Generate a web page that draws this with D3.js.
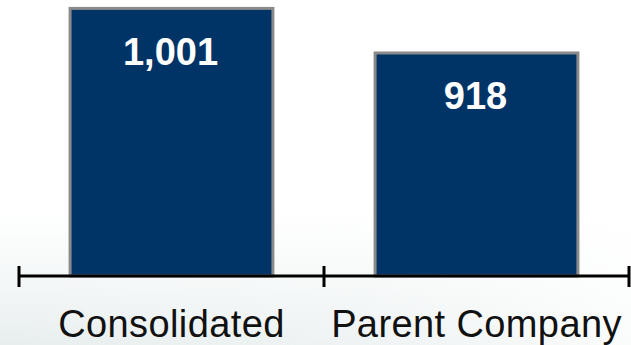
<!DOCTYPE html>
<html>
<head>
<meta charset="utf-8">
<script src="https://cdn.jsdelivr.net/npm/d3@7"></script>
<style>
  html, body { margin: 0; padding: 0; background: #fff; }
  svg { display: block; }
</style>
</head>
<body>
<svg id="chart" width="631" height="345"></svg>
<script>
// Chart data
const categories = ["Consolidated", "Parent Company"];
const values = [1001, 918];
const valueLabels = ["1,001", "918"];

const W = 631, H = 345;
const svg = d3.select("#chart");

// Soft backdrop shading toward the bottom
const defs = svg.append("defs");
const vg = defs.append("linearGradient").attr("id", "bgV")
  .attr("x1", 0).attr("y1", 0).attr("x2", 0).attr("y2", 1);
vg.append("stop").attr("offset", "0.6").attr("stop-color", "#ffffff");
vg.append("stop").attr("offset", "0.8").attr("stop-color", "#f5f8f8");
vg.append("stop").attr("offset", "1").attr("stop-color", "#e8eeee");
const hg = defs.append("linearGradient").attr("id", "bgH")
  .attr("x1", 0).attr("y1", 0).attr("x2", 1).attr("y2", 0);
hg.append("stop").attr("offset", "0").attr("stop-color", "#ffffff").attr("stop-opacity", 0);
hg.append("stop").attr("offset", "0.6").attr("stop-color", "#ffffff").attr("stop-opacity", 0.3);
hg.append("stop").attr("offset", "1").attr("stop-color", "#ffffff").attr("stop-opacity", 0.8);

svg.append("rect").attr("width", W).attr("height", H).attr("fill", "url(#bgV)");
svg.append("rect").attr("width", W).attr("height", H).attr("fill", "url(#bgH)");

// Scales
const axisY = 276;
const x = d3.scaleBand().domain(categories).range([19, 629]).padding(0);
const y = d3.scaleLinear().domain([500, 1012]).range([axisY, 1]);
const barFrac = 0.665;
const barW = x.bandwidth() * barFrac;

// Bars
svg.append("g").selectAll("rect")
  .data(categories)
  .join("rect")
  .attr("x", (d) => x(d) + (x.bandwidth() - barW) / 2)
  .attr("y", (d, i) => y(values[i]) + 1.5)
  .attr("width", barW)
  .attr("height", (d, i) => axisY - y(values[i]) - 1.5)
  .attr("fill", "#003466")
  .attr("stroke", "#8a8a8a")
  .attr("stroke-width", 3);

// Value labels inside bars
svg.append("g").selectAll("text")
  .data(categories)
  .join("text")
  .attr("x", (d) => x(d) + x.bandwidth() / 2 - 1)
  .attr("y", (d, i) => y(values[i]) + 58)
  .attr("text-anchor", "middle")
  .attr("font-family", "'Liberation Sans', Arial, sans-serif")
  .attr("font-weight", "bold")
  .attr("font-size", 38)
  .attr("fill", "#ffffff")
  .text((d, i) => valueLabels[i]);

// Category axis: baseline with ticks between categories
const tickXs = categories.map((c) => x(c)).concat([x.range()[1]]);
const axis = svg.append("g").attr("stroke", "#000").attr("stroke-width", 3);
axis.append("line")
  .attr("x1", x.range()[0]).attr("x2", x.range()[1])
  .attr("y1", axisY).attr("y2", axisY);
axis.selectAll("line.tick")
  .data(tickXs)
  .join("line")
  .attr("class", "tick")
  .attr("x1", (d) => d).attr("x2", (d) => d)
  .attr("y1", axisY - 10).attr("y2", axisY + 11);

// Category labels
svg.append("g").selectAll("text")
  .data(categories)
  .join("text")
  .attr("x", (d) => x(d) + x.bandwidth() / 2)
  .attr("y", 337)
  .attr("text-anchor", "middle")
  .attr("font-family", "'Liberation Sans', Arial, sans-serif")
  .attr("font-size", 38)
  .attr("letter-spacing", 0.4)
  .attr("fill", "#111")
  .text((d) => d);
</script>
</body>
</html>
